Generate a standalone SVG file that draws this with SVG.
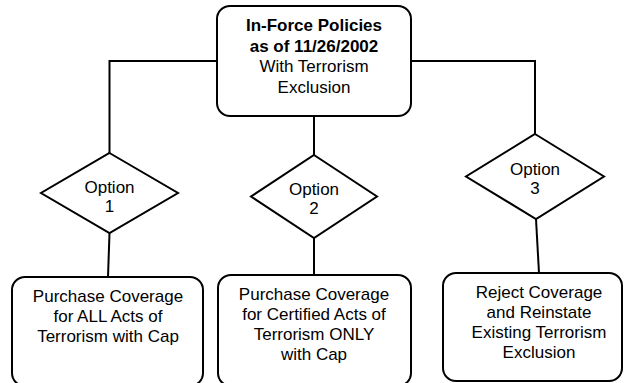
<svg xmlns="http://www.w3.org/2000/svg" width="625" height="383" viewBox="0 0 625 383">
<style>
.box{fill:#fff;stroke:#000;stroke-width:2}
.dia{fill:#fff;stroke:#000;stroke-width:2}
.con{fill:none;stroke:#000;stroke-width:2}
text{font-family:"Liberation Sans",Arial,sans-serif;font-size:17px;fill:#000;text-anchor:middle}
.b{font-weight:bold}
</style>
<rect width="625" height="383" fill="#fff"/>
<g id="connectors">
<polyline class="con" points="217,61 109.5,61 109.5,153"/>
<polyline class="con" points="411,61 535,61 535,134"/>
<line class="con" x1="314" y1="116" x2="314" y2="155"/>
<line class="con" x1="109.5" y1="233" x2="108" y2="277"/>
<line class="con" x1="314" y1="238" x2="314" y2="275"/>
<line class="con" x1="536" y1="219" x2="539" y2="273"/>
</g>
<g id="root">
<rect class="box" x="217" y="6" width="194" height="110" rx="13"/>
<text class="b" x="314" y="31">In-Force Policies</text>
<text class="b" x="314" y="52">as of 11/26/2002</text>
<text x="314" y="72">With Terrorism</text>
<text x="314" y="93">Exclusion</text>
</g>
<g id="option1">
<polygon class="dia" points="109.5,153 178,193 109.5,233 41,193"/>
<text x="109.5" y="193">Option</text>
<text x="109.5" y="212">1</text>
</g>
<g id="option2">
<polygon class="dia" points="314,155 377,196.5 314,238 251,196.5"/>
<text x="314" y="195">Option</text>
<text x="314" y="214">2</text>
</g>
<g id="option3">
<polygon class="dia" points="535,134 604,176.5 536,219 466,176.5"/>
<text x="535" y="175">Option</text>
<text x="535" y="194">3</text>
</g>
<g id="result1">
<rect class="box" x="12" y="277" width="191" height="109" rx="13"/>
<text x="108" y="302">Purchase Coverage</text>
<text x="108" y="322">for ALL Acts of</text>
<text x="108" y="342">Terrorism with Cap</text>
</g>
<g id="result2">
<rect class="box" x="218" y="275" width="193" height="111" rx="13"/>
<text x="314" y="300">Purchase Coverage</text>
<text x="314" y="320">for Certified Acts of</text>
<text x="314" y="340">Terrorism ONLY</text>
<text x="314" y="360">with Cap</text>
</g>
<g id="result3">
<rect class="box" x="443" y="273" width="179" height="108" rx="13"/>
<text x="539" y="298">Reject Coverage</text>
<text x="539" y="318">and Reinstate</text>
<text x="539" y="338">Existing Terrorism</text>
<text x="539" y="358">Exclusion</text>
</g>
</svg>
